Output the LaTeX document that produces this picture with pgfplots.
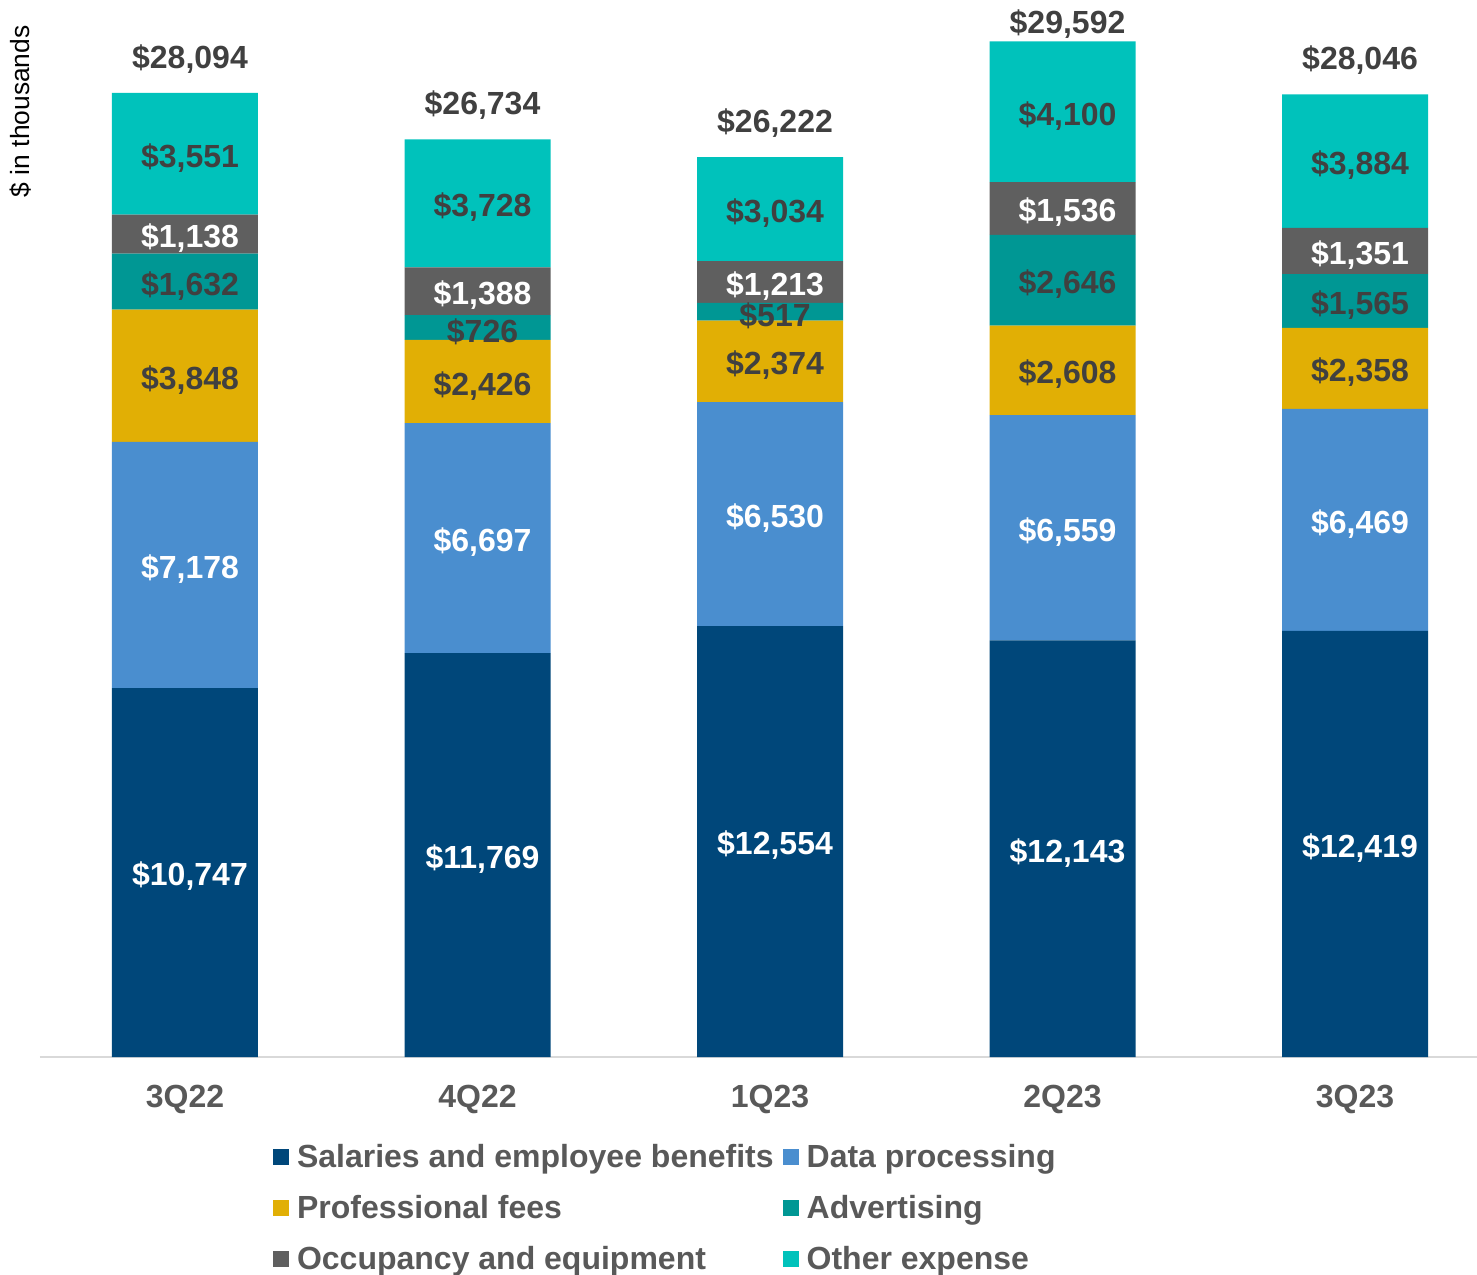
\documentclass[border=0pt]{standalone}
\usepackage{pgfplots}
\pgfplotsset{compat=1.18}
\usepackage{pgfplotstable}
\usepackage{fontspec}
\setmainfont{Liberation Sans}
\definecolor{csal}{HTML}{00477A}
\definecolor{cdata}{HTML}{4A8ECF}
\definecolor{cprof}{HTML}{E1AF05}
\definecolor{cadv}{HTML}{009794}
\definecolor{cocc}{HTML}{5F5F5F}
\definecolor{coth}{HTML}{00C2BB}
\definecolor{cdark}{HTML}{404040}
\definecolor{cgray}{HTML}{595959}
\definecolor{caxis}{HTML}{D9D9D9}
\newcommand\lf{\fontsize{16}{19}\selectfont\bfseries}

\pgfplotstableread{
x sal data prof adv occ oth tot msal mdata mprof madv mocc moth
0 10747 7178 3848 1632 1138 3551 28094 5373.5 14336 19849 22589 23974 26318.5
1 11769 6697 2426 726 1388 3728 26734 5884.5 15117.5 19679 21255 22312 24870
2 12554 6530 2374 517 1213 3034 26222 6277 15819 20271 21716.5 22581.5 24705
3 12143 6559 2608 2646 1536 4100 29592 6071.5 15422.5 20006 22633 24724 27542
4 12419 6469 2358 1565 1351 3884 28046 6209.5 15653.5 20067 22028.5 23486.5 26104
}\costs

\pgfplotsset{
  base/.style={scale only axis, width=718.5pt, height=514.8pt,
    xmin=-0.4957, xmax=4.417, ymin=0, ymax=30000, clip=false},
  lbl/.style={draw=none, mark=none,
    nodes near coords={\$\pgfmathprintnumber{\pgfplotspointmeta}},
    point meta=explicit,
    every node near coord/.append style={anchor=center, inner sep=0pt, font=\lf, text=#1, xshift=2.5pt}},
}

\begin{document}
\begin{tikzpicture}
\begin{axis}[base, name=ax, ybar stacked, bar width=73pt,
  axis y line=none, axis x line*=bottom,
  x axis line style={-, draw=caxis, line width=1pt},
  ytick=\empty, xtick={0,1,2,3,4}, xticklabels={3Q22,4Q22,1Q23,2Q23,3Q23},
  xtick style={draw=none},
  xticklabel style={font=\lf, text=cgray, inner sep=0pt, anchor=north, yshift=-13.8pt},
  legend columns=2, legend cell align=left,
  legend image code/.code={\path (-4.5pt,0pt) (12pt,0pt); \fill[#1,draw=none] (0pt,-3pt) rectangle (8pt,5pt);},
  legend style={at={(0.1559,-0.0836)}, anchor=north west, draw=none, fill=none,
    inner sep=0pt, outer sep=0pt, font=\lf, text=cgray, column sep=0pt, row sep=10pt,
    nodes={inner sep=0pt, text height=12pt, text depth=3.5pt}},
]
\addplot[fill=csal, draw=none] table[x=x,y=sal]{\costs};
\addplot[fill=cdata, draw=none] table[x=x,y=data]{\costs};
\addplot[fill=cprof, draw=none] table[x=x,y=prof]{\costs};
\addplot[fill=cadv, draw=none] table[x=x,y=adv]{\costs};
\addplot[fill=cocc, draw=none] table[x=x,y=occ]{\costs};
\addplot[fill=coth, draw=none] table[x=x,y=oth]{\costs};
\legend{Salaries and employee benefits, Data processing, Professional fees, Advertising, Occupancy and equipment, Other expense}
\node[rotate=90, anchor=south east, inner sep=0pt, font=\fontsize{13.2}{15}\selectfont] at ([xshift=-4pt,yshift=1.2pt]rel axis cs:0,1) {\$ in thousands};
\end{axis}
\begin{axis}[base, hide axis,
  /pgf/number format/assume math mode=true, /pgf/number format/1000 sep={,}]
\addplot[lbl=white, every node near coord/.append style={yshift=-2pt}] table[x=x, y=msal, meta=sal]{\costs};
\addplot[lbl=white, every node near coord/.append style={yshift=-2pt}] table[x=x, y=mdata, meta=data]{\costs};
\addplot[lbl=cdark, every node near coord/.append style={yshift=-2pt}] table[x=x, y=mprof, meta=prof]{\costs};
\addplot[lbl=cdark, every node near coord/.append style={yshift=-2pt}] table[x=x, y=madv, meta=adv]{\costs};
\addplot[lbl=white, every node near coord/.append style={yshift=-2pt}] table[x=x, y=mocc, meta=occ]{\costs};
\addplot[lbl=cdark, every node near coord/.append style={yshift=-2pt}] table[x=x, y=moth, meta=oth]{\costs};
\addplot[lbl=cdark, every node near coord/.append style={yshift=17pt}] coordinates {(0,28094) [28094] (1,26734) [26734] (2,26222) [26222] (4,28046) [28046]};
\addplot[lbl=cdark, every node near coord/.append style={yshift=8.5pt}] coordinates {(3,29592) [29592]};
\end{axis}
\pgfresetboundingbox
\path[use as bounding box] ([xshift=-20pt,yshift=-108.5pt]ax.south west) rectangle ([yshift=13.7pt]ax.north east);
\end{tikzpicture}
\end{document}
